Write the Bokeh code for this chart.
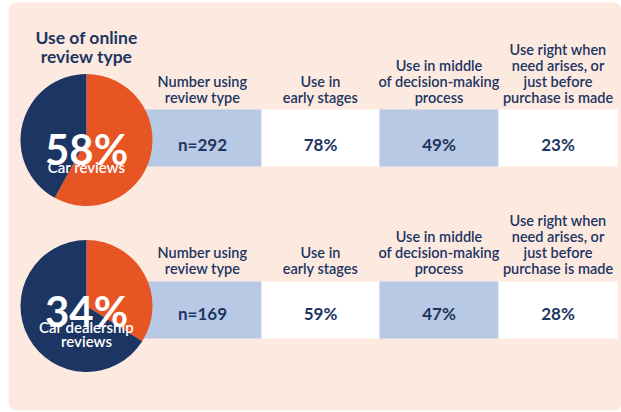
from bokeh.plotting import figure
from bokeh.models import Range1d, ColumnDataSource
from bokeh.embed import file_html
from bokeh.resources import INLINE
from bokeh.core.properties import value
import math

# ---------------- data ----------------
title_lines = ["Use of online", "review type"]
review_types = ["Car reviews", "Car dealership\nreviews"]
shares = [58, 34]
n_using = [292, 169]
early_stage = [78, 59]
middle_stage = [49, 47]
late_stage = [23, 28]
headers = ["Number using\nreview type",
           "Use in\nearly stages",
           "Use in middle\nof decision-making\nprocess",
           "Use right when\nneed arises, or\njust before\npurchase is made"]

# ---------------- style ----------------
NAVY = "#1C3562"
ORANGE = "#E85525"
BLUE = "#B8C9E5"
PEACH = "#FCEAE0"
FONT = value("Lato")
FONT_MED = value("Lato Semibold")

W, H = 621, 412
p = figure(width=W, height=H, output_backend="svg", toolbar_location=None,
           x_range=Range1d(0, W), y_range=Range1d(0, H),
           min_border=0, outline_line_color=None)
p.axis.visible = False
p.grid.visible = False
p.background_fill_color = "white"
p.border_fill_color = "white"

def Y(py):  # page y -> data y
    return H - py

# panel
p.quad(left=[8], right=[621], top=[Y(2)], bottom=[Y(410)], fill_color=PEACH,
       line_color=None, border_radius=8)

# title
p.text(x=[86, 86], y=[Y(37), Y(56)], text=title_lines, text_align="center",
       text_baseline="alphabetic", text_color=NAVY, text_font=FONT,
       text_font_size="17.5px", text_font_style="bold")

col_left = [143, 261, 379, 498]
col_right = [261, 379, 498, 617]
col_fill = [BLUE, "white", BLUE, "white"]
row_top = [109, 281]
row_bot = [166, 338]
header_base = [97, 268]
value_base = [144, 313]
pie_cy = [139.5, 305.5]
pie_cx = 86
pie_r = 66
big_base = [148, 310]
label_base = [166, 326]

for i in range(2):
    # header texts
    hx, hy, ht = [], [], []
    for c, h in enumerate(headers):
        lines = h.split("\n")
        for k, ln in enumerate(lines):
            hx.append((col_left[c] + col_right[c]) / 2)
            hy.append(Y(header_base[i] - 16 * (len(lines) - 1 - k)))
            ht.append(ln)
    p.text(x=hx, y=hy, text=ht, text_align="center", text_baseline="alphabetic",
           text_color=NAVY, text_font=FONT_MED, text_font_size="14.5px")

    # cells
    p.quad(left=col_left, right=col_right, top=[Y(row_top[i])] * 4,
           bottom=[Y(row_bot[i])] * 4, fill_color=col_fill, line_color=None)
    vals = [f"n={n_using[i]}", f"{early_stage[i]}%", f"{middle_stage[i]}%", f"{late_stage[i]}%"]
    p.text(x=[(l + r) / 2 for l, r in zip(col_left, col_right)], y=[Y(value_base[i])] * 4,
           text=vals, text_align="center", text_baseline="alphabetic", text_color=NAVY,
           text_font=FONT, text_font_size="17px", text_font_style="bold")

    # pie
    frac = shares[i] / 100
    a0 = math.pi / 2
    a1 = a0 - frac * 2 * math.pi
    src = ColumnDataSource(dict(start=[a0, a1], end=[a1, a0 - 2 * math.pi],
                                color=[ORANGE, NAVY]))
    p.wedge(x=pie_cx, y=Y(pie_cy[i]), radius=pie_r, start_angle="start", end_angle="end",
            direction="clock", fill_color="color", line_color=None, source=src)

    # pie labels
    p.text(x=[pie_cx], y=[Y(big_base[i])], text=[f"{shares[i]}%"], text_align="center",
           text_baseline="alphabetic", text_color="white", text_font=FONT,
           text_font_size="42px", text_font_style="bold")
    lab = review_types[i].split("\n")
    p.text(x=[pie_cx] * len(lab), y=[Y(label_base[i] + 14 * k) for k in range(len(lab))],
           text=lab, text_align="center", text_baseline="alphabetic", text_color="white",
           text_font=FONT_MED, text_font_size="15px")

open("out.html", "w").write(file_html(p, INLINE))
